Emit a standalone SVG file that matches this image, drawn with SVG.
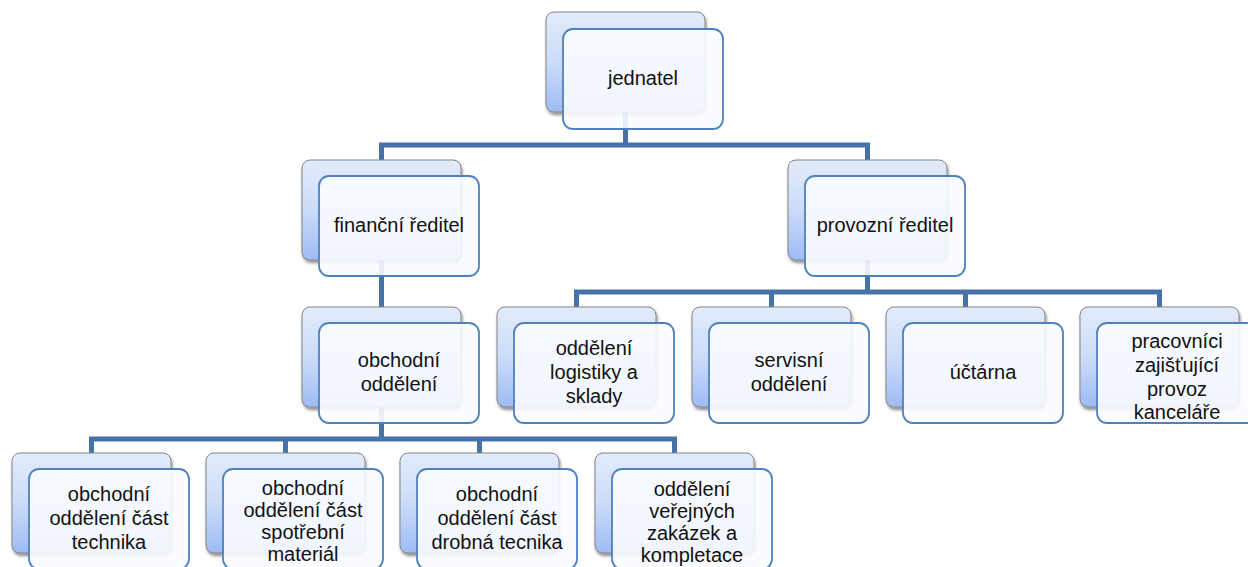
<svg xmlns="http://www.w3.org/2000/svg" width="1248" height="567" viewBox="0 0 1248 567">
<defs>
<linearGradient id="bg" x1="0" y1="0" x2="0" y2="1">
<stop offset="0" stop-color="#e2ebfb"/>
<stop offset="0.5" stop-color="#ccdcf8"/>
<stop offset="1" stop-color="#9dbbf4"/>
</linearGradient>
<filter id="sh" x="-10%" y="-10%" width="125%" height="130%">
<feDropShadow dx="1" dy="2.5" stdDeviation="1.8" flood-color="#000" flood-opacity="0.45"/>
</filter>
</defs>
<style>
.back{fill:url(#bg);stroke:#858585;stroke-width:1;filter:url(#sh)}
.front{fill:#fafcff;fill-opacity:0.9;stroke:#4f81bd;stroke-width:1.8}
.c{fill:none;stroke:#4672a8;stroke-width:5;stroke-linejoin:miter;stroke-linecap:butt}
text{font-family:"Liberation Sans",Arial,sans-serif;font-size:20px;fill:#111;text-anchor:middle}
</style>
<rect width="1248" height="567" fill="#fff"/>
<g id="connectors">
<path class="c" d="M625.5,112 V145"/>
<path class="c" d="M381.5,160 V145 H867.5 V160"/>
<path class="c" d="M381.5,259 V307"/>
<path class="c" d="M867.5,259 V292"/>
<path class="c" d="M576.5,307 V292 H1159.5 V307"/>
<path class="c" d="M771.5,292 V307"/>
<path class="c" d="M965.5,292 V307"/>
<path class="c" d="M381.5,407 V439"/>
<path class="c" d="M91.5,453 V439 H674.5 V453"/>
<path class="c" d="M285.5,439 V453"/>
<path class="c" d="M479.5,439 V453"/>
</g>
<g id="jednatel">
<rect class="back" x="546" y="12" width="159" height="100" rx="8"/>
<rect class="front" x="563" y="29" width="160" height="100" rx="10"/>
<text x="643" y="85">jednatel</text>
</g>
<g id="financni-reditel">
<rect class="back" x="302" y="160" width="159" height="100" rx="8"/>
<rect class="front" x="319" y="176" width="160" height="100" rx="10"/>
<text x="399" y="232">finanční ředitel</text>
</g>
<g id="provozni-reditel">
<rect class="back" x="788" y="160" width="159" height="100" rx="8"/>
<rect class="front" x="805" y="176" width="160" height="100" rx="10"/>
<text x="885" y="232">provozní ředitel</text>
</g>
<g id="obchodni-oddeleni">
<rect class="back" x="302" y="307" width="159" height="100" rx="8"/>
<rect class="front" x="319" y="323" width="160" height="100" rx="10"/>
<text x="399" y="367">obchodní</text>
<text x="399" y="391">oddělení</text>
</g>
<g id="logistika">
<rect class="back" x="497" y="307" width="159" height="100" rx="8"/>
<rect class="front" x="514" y="323" width="160" height="100" rx="10"/>
<text x="594" y="355">oddělení</text>
<text x="594" y="379">logistiky a</text>
<text x="594" y="403">sklady</text>
</g>
<g id="servis">
<rect class="back" x="692" y="307" width="159" height="100" rx="8"/>
<rect class="front" x="709" y="323" width="160" height="100" rx="10"/>
<text x="789" y="367">servisní</text>
<text x="789" y="391">oddělení</text>
</g>
<g id="uctarna">
<rect class="back" x="886" y="307" width="159" height="100" rx="8"/>
<rect class="front" x="903" y="323" width="160" height="100" rx="10"/>
<text x="983" y="379">účtárna</text>
</g>
<g id="pracovnici">
<rect class="back" x="1080" y="307" width="159" height="100" rx="8"/>
<rect class="front" x="1097" y="323" width="160" height="100" rx="10"/>
<text x="1177" y="348">pracovníci</text>
<text x="1177" y="372">zajišťující</text>
<text x="1177" y="396">provoz</text>
<text x="1177" y="419">kanceláře</text>
</g>
<g id="obchod-technika">
<rect class="back" x="12" y="453" width="159" height="100" rx="8"/>
<rect class="front" x="29" y="469" width="160" height="100" rx="10"/>
<text x="109" y="501">obchodní</text>
<text x="109" y="525">oddělení část</text>
<text x="109" y="549">technika</text>
</g>
<g id="obchod-spotrebni">
<rect class="back" x="206" y="453" width="159" height="100" rx="8"/>
<rect class="front" x="223" y="469" width="160" height="100" rx="10"/>
<text x="303" y="495">obchodní</text>
<text x="303" y="517">oddělení část</text>
<text x="303" y="539">spotřební</text>
<text x="303" y="561">materiál</text>
</g>
<g id="obchod-drobna">
<rect class="back" x="400" y="453" width="159" height="100" rx="8"/>
<rect class="front" x="417" y="469" width="160" height="100" rx="10"/>
<text x="497" y="501">obchodní</text>
<text x="497" y="525">oddělení část</text>
<text x="497" y="549">drobná tecnika</text>
</g>
<g id="verejne-zakazky">
<rect class="back" x="595" y="453" width="159" height="100" rx="8"/>
<rect class="front" x="612" y="469" width="160" height="100" rx="10"/>
<text x="692" y="496">oddělení</text>
<text x="692" y="518">veřejných</text>
<text x="692" y="540">zakázek a</text>
<text x="692" y="562">kompletace</text>
</g>
</svg>
